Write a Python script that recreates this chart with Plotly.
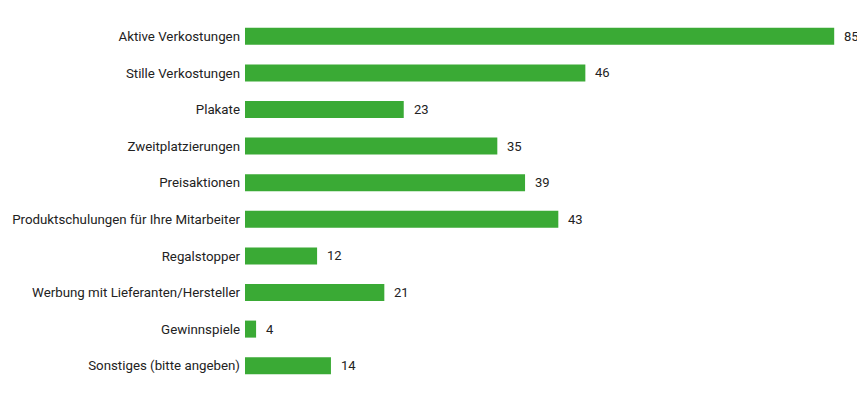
import plotly.graph_objects as go

categories = [
    "Aktive Verkostungen",
    "Stille Verkostungen",
    "Plakate",
    "Zweitplatzierungen",
    "Preisaktionen",
    "Produktschulungen für Ihre Mitarbeiter",
    "Regalstopper",
    "Werbung mit Lieferanten/Hersteller",
    "Gewinnspiele",
    "Sonstiges (bitte angeben)",
]
# bar lengths as drawn in the reference
bar_values = [85, 49.1, 22.9, 36.4, 40.4, 45.2, 10.4, 20.1, 1.6, 12.4]
# value labels printed next to the bars
label_values = [85, 46, 23, 35, 39, 43, 12, 21, 4, 14]

GREEN = "#3aaa35"
TEXT = "#222222"
FONT = "Roboto"

fig = go.Figure(
    go.Bar(
        y=categories,
        x=bar_values,
        orientation="h",
        marker=dict(color=GREEN, line=dict(width=0)),
        hoverinfo="skip",
    )
)

for cat, bv, lv in zip(categories, bar_values, label_values):
    fig.add_annotation(
        x=bv, y=cat, text=str(lv), showarrow=False,
        xanchor="left", yanchor="middle", xshift=8,
        font=dict(family=FONT, size=13, color=TEXT),
    )

fig.update_layout(
    width=857, height=387,
    margin=dict(l=237, r=10, t=10, b=10.5, autoexpand=False),
    paper_bgcolor="white", plot_bgcolor="white",
    bargap=0.535,
    showlegend=False,
    font=dict(family=FONT, size=12, color=TEXT),
    xaxis=dict(range=[0, 88], visible=False, fixedrange=True, automargin=False),
    yaxis=dict(
        autorange="reversed", showgrid=False, zeroline=False, showline=False,
        ticks="", ticklabelstandoff=4, automargin=False,
        tickfont=dict(family=FONT, size=13.3, color=TEXT),
    ),
)

fig.write_html("out.html")
